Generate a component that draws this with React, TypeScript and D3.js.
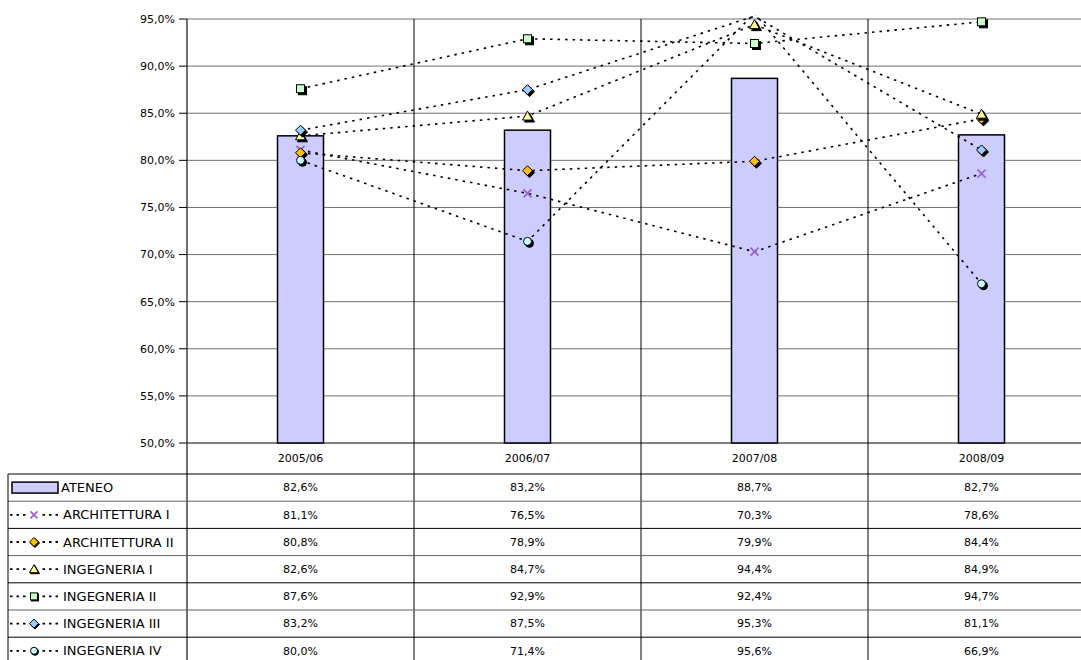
import React from "react";
import * as d3 from "d3";

const categories = ["2005/06", "2006/07", "2007/08", "2008/09"];
const yTicks = [50, 55, 60, 65, 70, 75, 80, 85, 90, 95];
const ateneo = [82.6, 83.2, 88.7, 82.7];
const architettura1 = [81.1, 76.5, 70.3, 78.6];
const architettura2 = [80.8, 78.9, 79.9, 84.4];
const ingegneria1 = [82.6, 84.7, 94.4, 84.9];
const ingegneria2 = [87.6, 92.9, 92.4, 94.7];
const ingegneria3 = [83.2, 87.5, 95.3, 81.1];
const ingegneria4 = [80.0, 71.4, 95.6, 66.9];

type Series = { name: string; values: number[]; marker: string; color: string };
const lineSeries: Series[] = [
  { name: "ARCHITETTURA I", values: architettura1, marker: "x", color: "#9966CC" },
  { name: "ARCHITETTURA II", values: architettura2, marker: "diamond", color: "#FFC000" },
  { name: "INGEGNERIA I", values: ingegneria1, marker: "triangle", color: "#FFFF99" },
  { name: "INGEGNERIA II", values: ingegneria2, marker: "square", color: "#CCFFCC" },
  { name: "INGEGNERIA III", values: ingegneria3, marker: "diamond", color: "#99CCFF" },
  { name: "INGEGNERIA IV", values: ingegneria4, marker: "circle", color: "#CCFFFF" },
];

const fmt = (v: number) => v.toFixed(1).replace(".", ",") + "%";
const FONT = "'DejaVu Sans', Verdana, sans-serif";

function Marker({ type, x, y, color, s = 4, sh = 2 }: { type: string; x: number; y: number; color: string; s?: number; sh?: number }) {
  const shape = (dx: number, dy: number, fill: string, stroke: string) => {
    const cx = x + dx, cy = y + dy;
    if (type === "square")
      return <rect x={cx - s} y={cy - s} width={2 * s} height={2 * s} fill={fill} stroke={stroke} strokeWidth={1} />;
    if (type === "circle") return <circle cx={cx} cy={cy} r={s} fill={fill} stroke={stroke} strokeWidth={1} />;
    if (type === "diamond")
      return (
        <path d={`M${cx},${cy - s - 1}L${cx + s + 1},${cy}L${cx},${cy + s + 1}L${cx - s - 1},${cy}Z`} fill={fill} stroke={stroke} strokeWidth={1} />
      );
    if (type === "triangle")
      return <path d={`M${cx},${cy - s - 1}L${cx + s + 1},${cy + s}L${cx - s - 1},${cy + s}Z`} fill={fill} stroke={stroke} strokeWidth={1} />;
    return null;
  };
  if (type === "x") {
    return (
      <path d={`M${x - s},${y - s}L${x + s},${y + s}M${x - s},${y + s}L${x + s},${y - s}`} stroke={color} strokeWidth={1.8} fill="none" />
    );
  }
  return (
    <g>
      {shape(sh, sh, "#000", "#000")}
      {shape(0, 0, color, "#000")}
    </g>
  );
}

export default function App() {
  const W = 1081, H = 660;
  const left = 187, right = 1095, top = 19, bottom = 443;
  const tableLeft = 8;
  const x = d3.scaleBand<string>().domain(categories).range([left, right]).padding(0);
  const y = d3.scaleLinear().domain([50, 95]).range([bottom, top]);
  const barW = 46;
  const cx = (c: string) => (x(c) as number) + x.bandwidth() / 2;
  const headerBottom = 474;
  const rowH = 27.2;
  const nRows = 7;
  const tableBottom = headerBottom + rowH * nRows;
  const line = d3
    .line<number>()
    .x((_, i) => cx(categories[i]))
    .y((d) => y(d));

  const rows = [{ name: "ATENEO", values: ateneo }, ...lineSeries];

  return (
    <svg width={W} height={H} style={{ position: "absolute", left: 0, top: 0, background: "#fff" }} fontFamily={FONT}>
      <defs>
        <clipPath id="plotClip">
          <rect x={left} y={top - 4} width={right - left} height={bottom - top + 4} />
        </clipPath>
      </defs>
      <rect x={0} y={0} width={W} height={H} fill="#fff" />
      {yTicks.map((t) => (
        <line key={t} x1={left} x2={right} y1={y(t)} y2={y(t)} stroke={t === 50 ? "#000" : "#707070"} strokeWidth={1} />
      ))}
      {categories.slice(1).map((c) => (
        <line key={c} x1={x(c)} x2={x(c)} y1={top} y2={tableBottom} stroke="#000" strokeWidth={1} />
      ))}
      <line x1={left} x2={left} y1={top} y2={tableBottom} stroke="#404040" strokeWidth={1.5} />
      {yTicks.map((t) => (
        <g key={"tk" + t}>
          <line x1={left - 8} x2={left} y1={y(t)} y2={y(t)} stroke="#000" />
          <text x={left - 12} y={y(t)} dy="0.35em" textAnchor="end" fontSize={11} fill="#000">
            {fmt(t)}
          </text>
        </g>
      ))}
      {ateneo.map((v, i) => (
        <rect
          key={"b" + i}
          x={cx(categories[i]) - barW / 2}
          y={y(v)}
          width={barW}
          height={bottom - y(v)}
          fill="#CCCCFF"
          stroke="#000"
          strokeWidth={1.5}
        />
      ))}
      <g clipPath="url(#plotClip)">
        {lineSeries.map((s) => (
          <path key={s.name} d={line(s.values) || ""} fill="none" stroke="#000" strokeWidth={1.6} strokeDasharray="2.5 5" />
        ))}
        {lineSeries.map((s) =>
          s.values.map((v, i) =>
            v <= 95 ? <Marker key={s.name + i} type={s.marker} x={cx(categories[i])} y={y(v)} color={s.color} /> : null
          )
        )}
      </g>
      {categories.map((c) => (
        <text key={"h" + c} x={cx(c)} y={(bottom + headerBottom) / 2} dy="0.35em" textAnchor="middle" fontSize={11}>
          {c}
        </text>
      ))}
      {d3.range(nRows + 1).map((i) => (
        <line
          key={"rl" + i}
          x1={tableLeft}
          x2={right}
          y1={headerBottom + i * rowH}
          y2={headerBottom + i * rowH}
          stroke={i % 2 === 0 ? "#000" : "#606060"}
          strokeWidth={1}
        />
      ))}
      <line x1={tableLeft} x2={tableLeft} y1={headerBottom} y2={tableBottom} stroke="#000" />
      {rows.map((r, ri) => {
        const ry = headerBottom + rowH * (ri + 0.5);
        return (
          <g key={"row" + ri}>
            {ri === 0 ? (
              <rect x={12} y={ry - 5.5} width={46} height={11} fill="#CCCCFF" stroke="#000" strokeWidth={1.5} />
            ) : (
              <g>
                <line x1={10} x2={60} y1={ry} y2={ry} stroke="#000" strokeWidth={1.8} strokeDasharray="2.5 4" />
                <rect x={29} y={ry - 6} width={11} height={12} fill="#fff" />
                <Marker type={(r as Series).marker} x={34} y={ry} color={(r as Series).color} s={3.5} sh={1} />
              </g>
            )}
            <text x={ri === 0 ? 61 : 63} y={ry} dy="0.35em" fontSize={13} fill="#000">
              {r.name}
            </text>
            {r.values.map((v, i) => (
              <text key={i} x={cx(categories[i])} y={ry} dy="0.35em" textAnchor="middle" fontSize={11}>
                {fmt(v)}
              </text>
            ))}
          </g>
        );
      })}
    </svg>
  );
}
